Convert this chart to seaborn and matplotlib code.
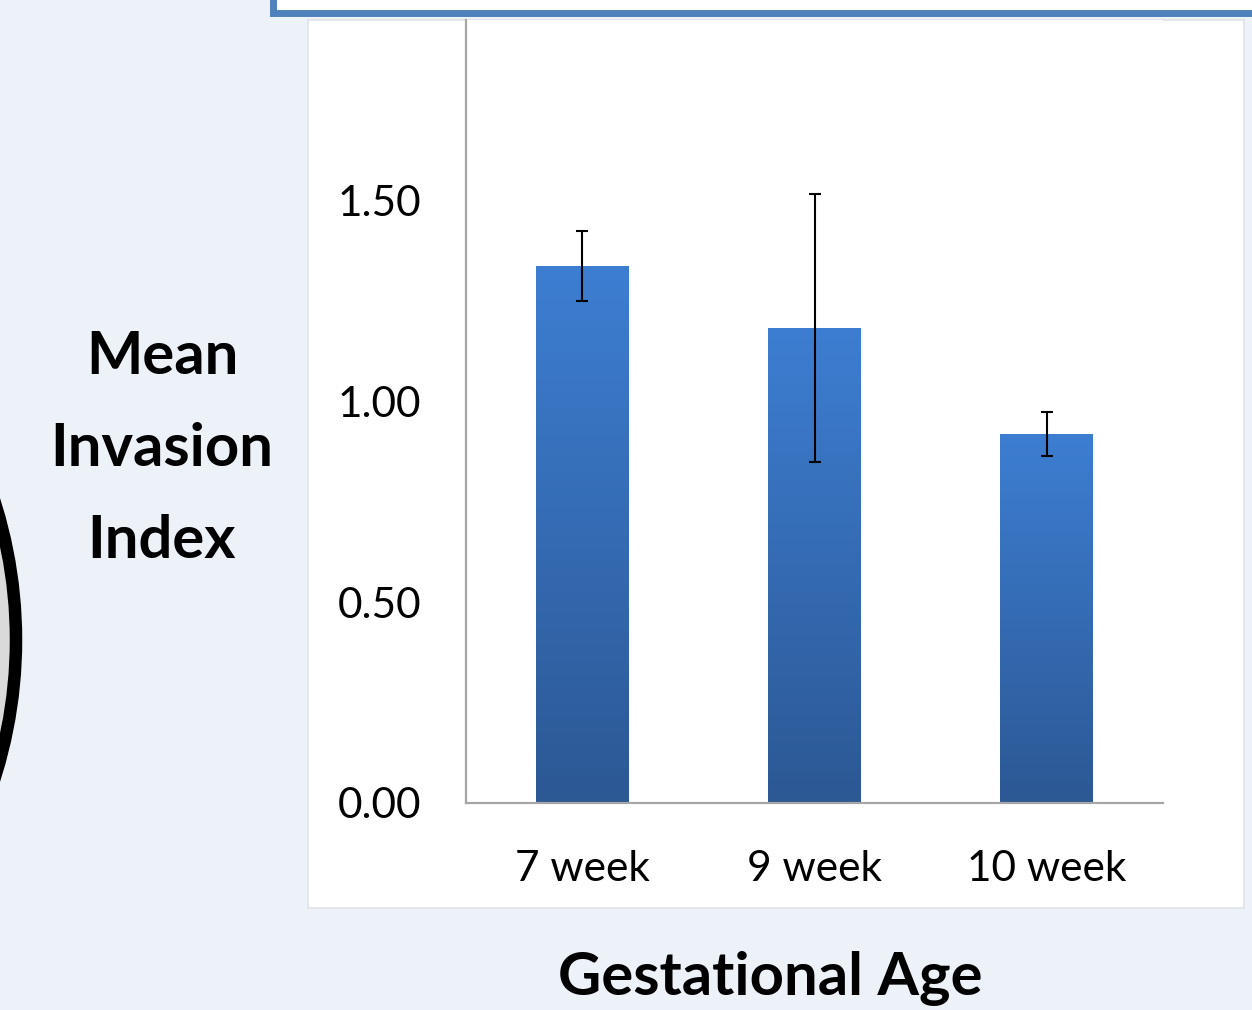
import numpy as np
import seaborn as sns
import matplotlib.pyplot as plt
from matplotlib.patches import Rectangle, Circle
from matplotlib.colors import LinearSegmentedColormap

# data
categories = ["7 week", "9 week", "10 week"]
means = [1.337, 1.183, 0.918]
errors = [0.087, 0.333, 0.055]
y_ticks = [0.0, 0.5, 1.0, 1.5]
y_tick_labels = ["0.00", "0.50", "1.00", "1.50"]

W, H = 1252, 1010
bg = "#EDF2F9"

sns.set_style("white")
plt.rcParams["font.family"] = ["Lato", "DejaVu Sans"]
plt.rcParams["text.color"] = "black"

fig = plt.figure(figsize=(W / 100, H / 100), dpi=100, facecolor=bg)

# white panel behind the chart
fig.patches.append(Rectangle((308 / W, 1 - 908 / H), (1244 - 308) / W, (908 - 20) / H,
                             transform=fig.transFigure, facecolor="white",
                             edgecolor="#dfe3e8", lw=1.2, zorder=-2))
# blue box cut off at the top
fig.patches.append(Rectangle((273 / W, 1 - 13 / H), (1300 - 273) / W, 40 / H,
                             transform=fig.transFigure, facecolor="white",
                             edgecolor="#4F81BD", lw=5, zorder=5))
# black ring at the left edge
fig.patches.append(Circle((-442, H - 640), 458, transform=None,
                          facecolor="#dadada", edgecolor="black", lw=9, zorder=-1))

ax = fig.add_axes([466 / W, 1 - 803 / H, (1163 - 466) / W, (803 - 20) / H])
ax.set_zorder(1)
ax.set_facecolor("white")

sns.barplot(x=categories, y=means, ax=ax, color="#3A78C8", width=0.4,
            errorbar=None, saturation=1)

# vertical gradient inside each bar
grad = np.linspace(0, 1, 256).reshape(-1, 1)
cmap = LinearSegmentedColormap.from_list("bar", ["#2C5894", "#3D7ED2"])
xs = []
for p in ax.patches:
    x0, w, h = p.get_x(), p.get_width(), p.get_height()
    xs.append(x0 + w / 2)
    im = ax.imshow(grad, cmap=cmap, aspect="auto", origin="lower",
                   extent=(x0, x0 + w, 0, h), zorder=p.get_zorder() + 0.1)
    im.set_clip_path(p)

ax.errorbar(xs, means, yerr=errors, fmt="none", ecolor="black",
            elinewidth=1.5, capsize=4.3, capthick=1.5, zorder=10)

ax.set_xlim(-0.5, 2.5)
ax.set_ylim(0, 1.95)
ax.set_yticks(y_ticks)
ax.set_yticklabels(y_tick_labels)
ax.tick_params(axis="both", length=0, labelsize=30.5, colors="black")
ax.tick_params(axis="y", pad=32)
ax.tick_params(axis="x", pad=34)
for s in ["top", "right"]:
    ax.spines[s].set_visible(False)
for s in ["left", "bottom"]:
    ax.spines[s].set_color("#a6a6a6")
    ax.spines[s].set_linewidth(1.6)

fig.text(162 / W, 1 - 449 / H, "Mean\nInvasion\nIndex", ha="center", va="center",
         fontsize=43, fontweight="bold", linespacing=1.87)
fig.text(770 / W, 1 - 978 / H, "Gestational Age", ha="center", va="center",
         fontsize=43, fontweight="bold")

fig.savefig("out.png", dpi=100, facecolor=bg)
